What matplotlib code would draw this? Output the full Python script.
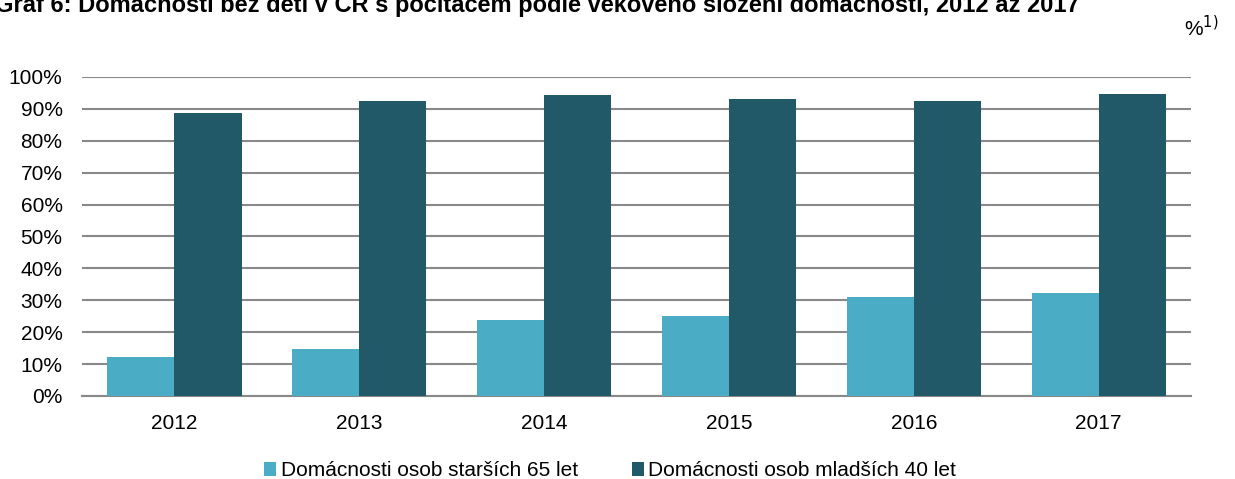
import matplotlib
matplotlib.use("Agg")
import matplotlib.pyplot as plt
import numpy as np

plt.rcParams['font.family'] = ['Liberation Sans', 'DejaVu Sans']

years = ['2012', '2013', '2014', '2015', '2016', '2017']
starsi65 = [12.2, 14.7, 23.8, 25.1, 31.0, 32.3]
mladsi40 = [88.8, 92.5, 94.4, 93.1, 92.4, 94.6]
labels = ['Domácnosti osob starších 65 let', 'Domácnosti osob mladších 40 let']
title = 'Graf 6: Domácnosti bez dětí v ČR s počítačem podle věkového složení domácností, 2012 až 2017'

fig = plt.figure(figsize=(12.35, 4.79), dpi=100)
ax = fig.add_axes([0.0664, 0.1733, 0.898, 0.666])

x = np.arange(len(years))
w = 0.363
ax.bar(x - w/2, starsi65, w, color='#4BACC6', label=labels[0], zorder=3)
ax.bar(x + w/2, mladsi40, w, color='#215968', label=labels[1], zorder=3)

ax.set_xlim(-0.5, len(years) - 0.5)
ax.set_ylim(0, 100)
ax.set_yticks(range(0, 101, 10))
ax.set_yticklabels([f'{v}%' for v in range(0, 101, 10)])
ax.set_xticks(x)
ax.set_xticklabels(years)
ax.yaxis.grid(True, color='#898989', linewidth=1.5, zorder=0)
for s in ['top', 'right', 'left']:
    ax.spines[s].set_visible(False)
ax.spines['bottom'].set_color('#898989')
ax.spines['bottom'].set_linewidth(1.5)
ax.tick_params(axis='both', length=0, labelsize=15, colors='black')
ax.tick_params(axis='x', pad=13)
ax.tick_params(axis='y', pad=14)

# title partly cut off at the top edge, as in the source
fig.text(-0.004, 1 - 12/479, title, fontsize=17, fontweight='bold', va='baseline', ha='left')
fig.text(0.9865, 1 - 36/479, '%$^{1)}$', fontsize=15, ha='right', va='baseline')

fig.legend(loc='lower center', bbox_to_anchor=(0.494, -0.042), ncol=2, frameon=False,
           fontsize=15, handlelength=0.6, handleheight=0.6, handletextpad=0.2,
           columnspacing=2.6)

fig.savefig('out.png', dpi=100)
